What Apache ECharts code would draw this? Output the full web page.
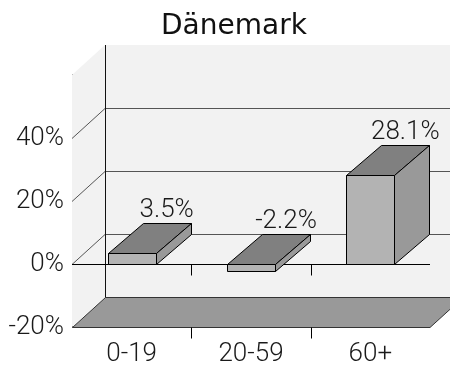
<!DOCTYPE html>
<html>
<head>
<meta charset="utf-8">
<script src="https://cdn.jsdelivr.net/npm/echarts@6/dist/echarts.min.js"></script>
<style>
  html, body { margin: 0; padding: 0; background: #ffffff; }
  #chart { width: 450px; height: 368px; }
</style>
</head>
<body>
<div id="chart"></div>
<script>
// Population change by age group
const chartTitle = 'Dänemark';
const categories = ['0-19', '20-59', '60+'];
const values = [3.5, -2.2, 28.1];
const yTicks = [-20, 0, 20, 40, 60];

const LABEL_FONT = 'Roboto';
const LABEL_WEIGHT = 300;
const TEXT_COLOR = '#1a1a1a';
// depth of the box and of each bar, in pixels
const WALL_DX = 33, WALL_DY = -30;
const BAR_DX = 35, BAR_DY = -30;

const px = v => Math.round(v) + 0.5;

// back wall, side wall, floor, gridlines, zero line and category ticks
function renderRoom(params, api) {
  const cs = params.coordSys;
  const L = cs.x, R = cs.x + cs.width, T = cs.y, B = cs.y + cs.height;
  const kids = [];
  kids.push({ type: 'rect', shape: { x: L + WALL_DX, y: T + WALL_DY, width: cs.width, height: cs.height },
    style: { fill: '#f2f2f2' } });
  kids.push({ type: 'polygon', shape: { points: [[L, T], [L + WALL_DX, T + WALL_DY], [L + WALL_DX, B + WALL_DY], [L, B]] },
    style: { fill: '#f2f2f2' } });
  yTicks.slice(1, -1).forEach(v => {
    const y = px(api.coord([0, v])[1]);
    kids.push({ type: 'polyline',
      shape: { points: [[L, y], [L + WALL_DX, y + WALL_DY], [R + WALL_DX + 10, y + WALL_DY]] },
      style: { stroke: '#555555', lineWidth: 1, fill: null } });
  });
  const fb = px(B), fl = px(L);
  kids.push({ type: 'polygon',
    shape: { points: [[fl, fb], [R, fb], [R + WALL_DX, fb + WALL_DY], [fl + WALL_DX, fb + WALL_DY]] },
    style: { fill: '#999999', stroke: '#333333', lineWidth: 1 } });
  kids.push({ type: 'line', shape: { x1: fl + WALL_DX, y1: T + WALL_DY, x2: fl + WALL_DX, y2: fb + WALL_DY },
    style: { stroke: '#111111', lineWidth: 1 } });
  const y0 = px(api.coord([0, 0])[1]);
  kids.push({ type: 'line', shape: { x1: L, y1: y0, x2: R, y2: y0 }, style: { stroke: '#000000', lineWidth: 1 } });
  for (let i = 1; i < categories.length; i++) {
    const x = px((api.coord([i - 1, 0])[0] + api.coord([i, 0])[0]) / 2);
    kids.push({ type: 'line', shape: { x1: x, y1: y0, x2: x, y2: y0 + 11 }, style: { stroke: '#000', lineWidth: 1 } });
    kids.push({ type: 'line', shape: { x1: x, y1: fb, x2: x, y2: fb + 11 }, style: { stroke: '#000', lineWidth: 1 } });
  }
  return { type: 'group', children: kids };
}

// one box per category, with its value above the top face
function renderBar(params, api) {
  const i = api.value(0), v = api.value(1);
  const [cx, yv] = api.coord([i, v]);
  const y0 = api.coord([i, 0])[1];
  const w = api.size([1, 0])[0] * 0.4;
  const x1 = Math.round(cx - w / 2) + 0.5, x2 = Math.round(cx + w / 2) + 0.5;
  const top = Math.round(Math.min(yv, y0)) + 0.5, bot = Math.round(Math.max(yv, y0)) + 0.5;
  const edge = { stroke: '#000000', lineWidth: 1, lineJoin: 'round' };
  return { type: 'group', children: [
    { type: 'polygon', shape: { points: [[x1, top], [x2, top], [x2, bot], [x1, bot]] },
      style: Object.assign({ fill: '#b3b3b3' }, edge) },
    { type: 'polygon', shape: { points: [[x1, top], [x2, top], [x2 + BAR_DX, top + BAR_DY], [x1 + BAR_DX, top + BAR_DY]] },
      style: Object.assign({ fill: '#808080' }, edge) },
    { type: 'polygon', shape: { points: [[x2, top], [x2 + BAR_DX, top + BAR_DY], [x2 + BAR_DX, bot + BAR_DY], [x2, bot]] },
      style: Object.assign({ fill: '#999999' }, edge) },
    { type: 'text', x: cx + BAR_DX, y: top + BAR_DY,
      style: { text: v.toFixed(1) + '%', fontFamily: LABEL_FONT, fontWeight: LABEL_WEIGHT, fontSize: 26, fill: TEXT_COLOR,
        align: 'center', verticalAlign: 'bottom' } }
  ] };
}

const chart = echarts.init(document.getElementById('chart'));
chart.setOption({
  animation: false,
  backgroundColor: '#ffffff',
  title: {
    text: chartTitle, left: 156, top: 8,
    textStyle: { fontFamily: 'DejaVu Sans', fontSize: 28, fontWeight: 'normal', color: '#111111' }
  },
  grid: { left: 72, right: 20, top: 75, bottom: 41 },
  xAxis: {
    type: 'category', data: categories,
    axisLine: { show: false }, axisTick: { show: false },
    axisLabel: { fontFamily: LABEL_FONT, fontWeight: LABEL_WEIGHT, fontSize: 26, color: TEXT_COLOR, margin: 14 }
  },
  yAxis: {
    type: 'value', min: yTicks[0], max: yTicks[yTicks.length - 1], interval: yTicks[1] - yTicks[0],
    axisLine: { show: true, lineStyle: { color: '#000000', width: 1 } },
    axisTick: { show: false }, splitLine: { show: false },
    axisLabel: { formatter: '{value}%', showMaxLabel: false, fontFamily: LABEL_FONT, fontWeight: LABEL_WEIGHT,
      fontSize: 26, color: TEXT_COLOR, margin: 8 }
  },
  series: [
    { type: 'custom', renderItem: renderRoom, data: [[0, 0]], z: 1, silent: true },
    { type: 'custom', renderItem: renderBar, data: values.map((v, i) => [i, v]),
      encode: { x: 0, y: 1 }, z: 3 }
  ]
});
</script>
</body>
</html>
